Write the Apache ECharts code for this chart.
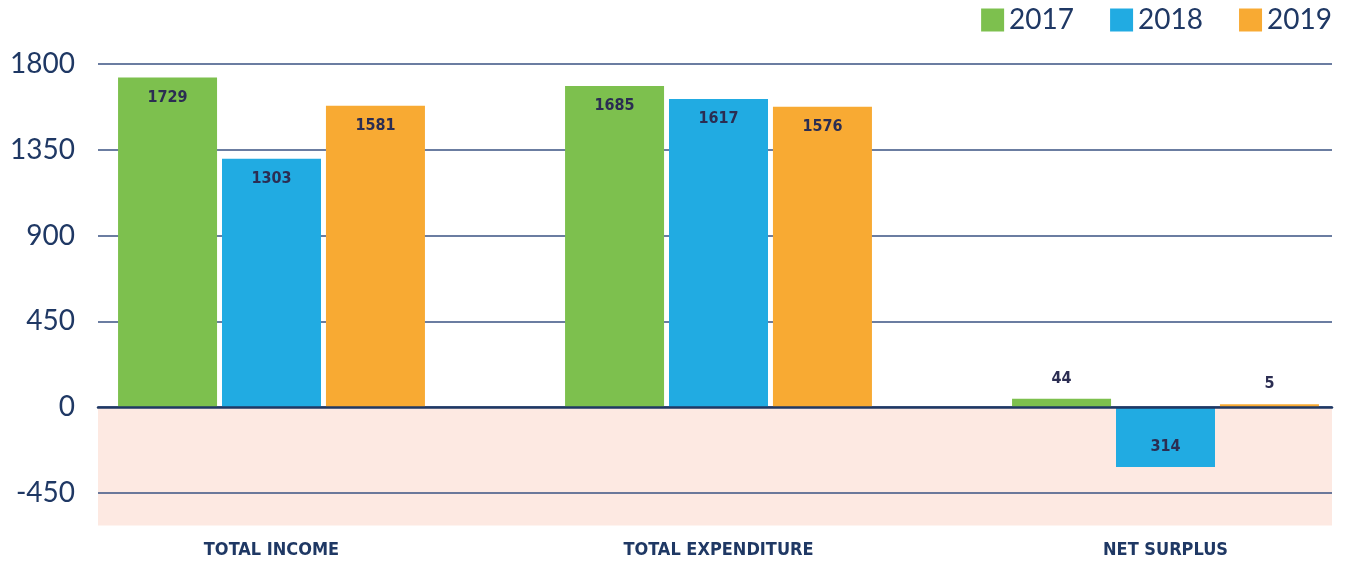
<!DOCTYPE html>
<html>
<head>
<meta charset="utf-8">
<script src="https://cdn.jsdelivr.net/npm/echarts@6/dist/echarts.min.js"></script>
<style>html,body{margin:0;padding:0;background:#fff}#c{width:1345px;height:565px}</style>
</head>
<body>
<div id="c"></div>
<script>
const categories = ['TOTAL INCOME', 'TOTAL EXPENDITURE', 'NET SURPLUS'];
const years = ['2017', '2018', '2019'];
const values2017 = [1729, 1685, 44];
const values2018 = [1303, 1617, -314];
const values2019 = [1581, 1576, 5];
const colors = ['#7dc04e', '#21abe2', '#f8aa33'];
const yMin = -450, yMax = 1800, yInterval = 450;
const shadeBottom = -620;
const bgMin = -900;

const labelFont = "'DejaVu Sans Condensed','Liberation Sans Narrow',sans-serif";
const navy = '#1f3864';

function items(vals) {
  return vals.map(v => {
    let pos = 'insideTop';
    if (v < 0) pos = 'insideBottom';
    else if (v < 200) pos = 'top';
    return { value: v, label: { position: pos, distance: 12 } };
  });
}

const seriesVals = [values2017, values2018, values2019];
const barSeries = years.map((y, i) => ({
  name: y,
  type: 'bar',
  xAxisIndex: 0,
  yAxisIndex: 0,
  barWidth: 99,
  barGap: '5%',
  barMinHeight: 3,
  itemStyle: { color: colors[i] },
  label: {
    show: true,
    color: '#2b2d52',
    fontFamily: labelFont,
    fontWeight: 'bold',
    fontSize: 16,
    formatter: p => Math.abs(p.value)
  },
  data: items(seriesVals[i]),
  z: 3
}));

// pixel scale: same for both grids (top 64, value 1800; 0 at 407)
const pxPerUnit = (565 - 64 - 72) / (yMax - yMin);
const bgBottom = 565 - (64 + (yMax - bgMin) * pxPerUnit);

const chart = echarts.init(document.getElementById('c'));
chart.setOption({
  animation: false,
  legend: {
    data: years,
    right: 13,
    top: 6,
    padding: 0,
    itemWidth: 23,
    itemHeight: 23,
    itemGap: 36,
    icon: 'rect',
    textStyle: { fontFamily: 'Lato', fontSize: 28, color: navy }
  },
  grid: [
    { left: 48, width: 1341, top: 64, bottom: 72, containLabel: false, outerBoundsMode: 'none' },
    { left: 98, right: 13, top: 64, bottom: bgBottom, containLabel: false, outerBoundsMode: 'none' }
  ],
  xAxis: [
    {
      gridIndex: 0,
      type: 'category',
      data: categories,
      axisLine: { show: false, onZero: false },
      axisTick: { show: false },
      axisLabel: {
        margin: 48,
        color: navy,
        fontFamily: labelFont,
        fontWeight: 'bold',
        fontSize: 18
      }
    },
    {
      gridIndex: 1,
      type: 'value',
      min: 0,
      max: 1,
      axisLine: { show: true, onZero: true, lineStyle: { color: navy, width: 2.5 } },
      axisTick: { show: false },
      axisLabel: { show: false },
      splitLine: { show: false },
      z: 4
    }
  ],
  yAxis: [
    {
      gridIndex: 0,
      type: 'value',
      min: yMin, max: yMax, interval: yInterval,
      axisLabel: { show: false },
      axisLine: { show: false },
      axisTick: { show: false },
      splitLine: { show: false }
    },
    {
      gridIndex: 1,
      type: 'value',
      min: bgMin, max: yMax, interval: yInterval,
      z: 2,
      axisLabel: {
        margin: 23, color: navy, fontFamily: 'Lato', fontSize: 28,
        formatter: v => (v < yMin ? '' : String(v))
      },
      axisLine: { show: false },
      axisTick: { show: false },
      splitLine: { show: true, lineStyle: { color: '#3a5282', width: 1.5 } }
    }
  ],
  series: [
    {
      type: 'line',
      xAxisIndex: 1,
      yAxisIndex: 1,
      data: [],
      silent: true,
      z: 1,
      markArea: {
        silent: true,
        z: 1,
        itemStyle: { color: '#fde9e2' },
        data: [[{ yAxis: 0 }, { yAxis: shadeBottom }]]
      }
    }
  ].concat(barSeries)
});
</script>
</body>
</html>
